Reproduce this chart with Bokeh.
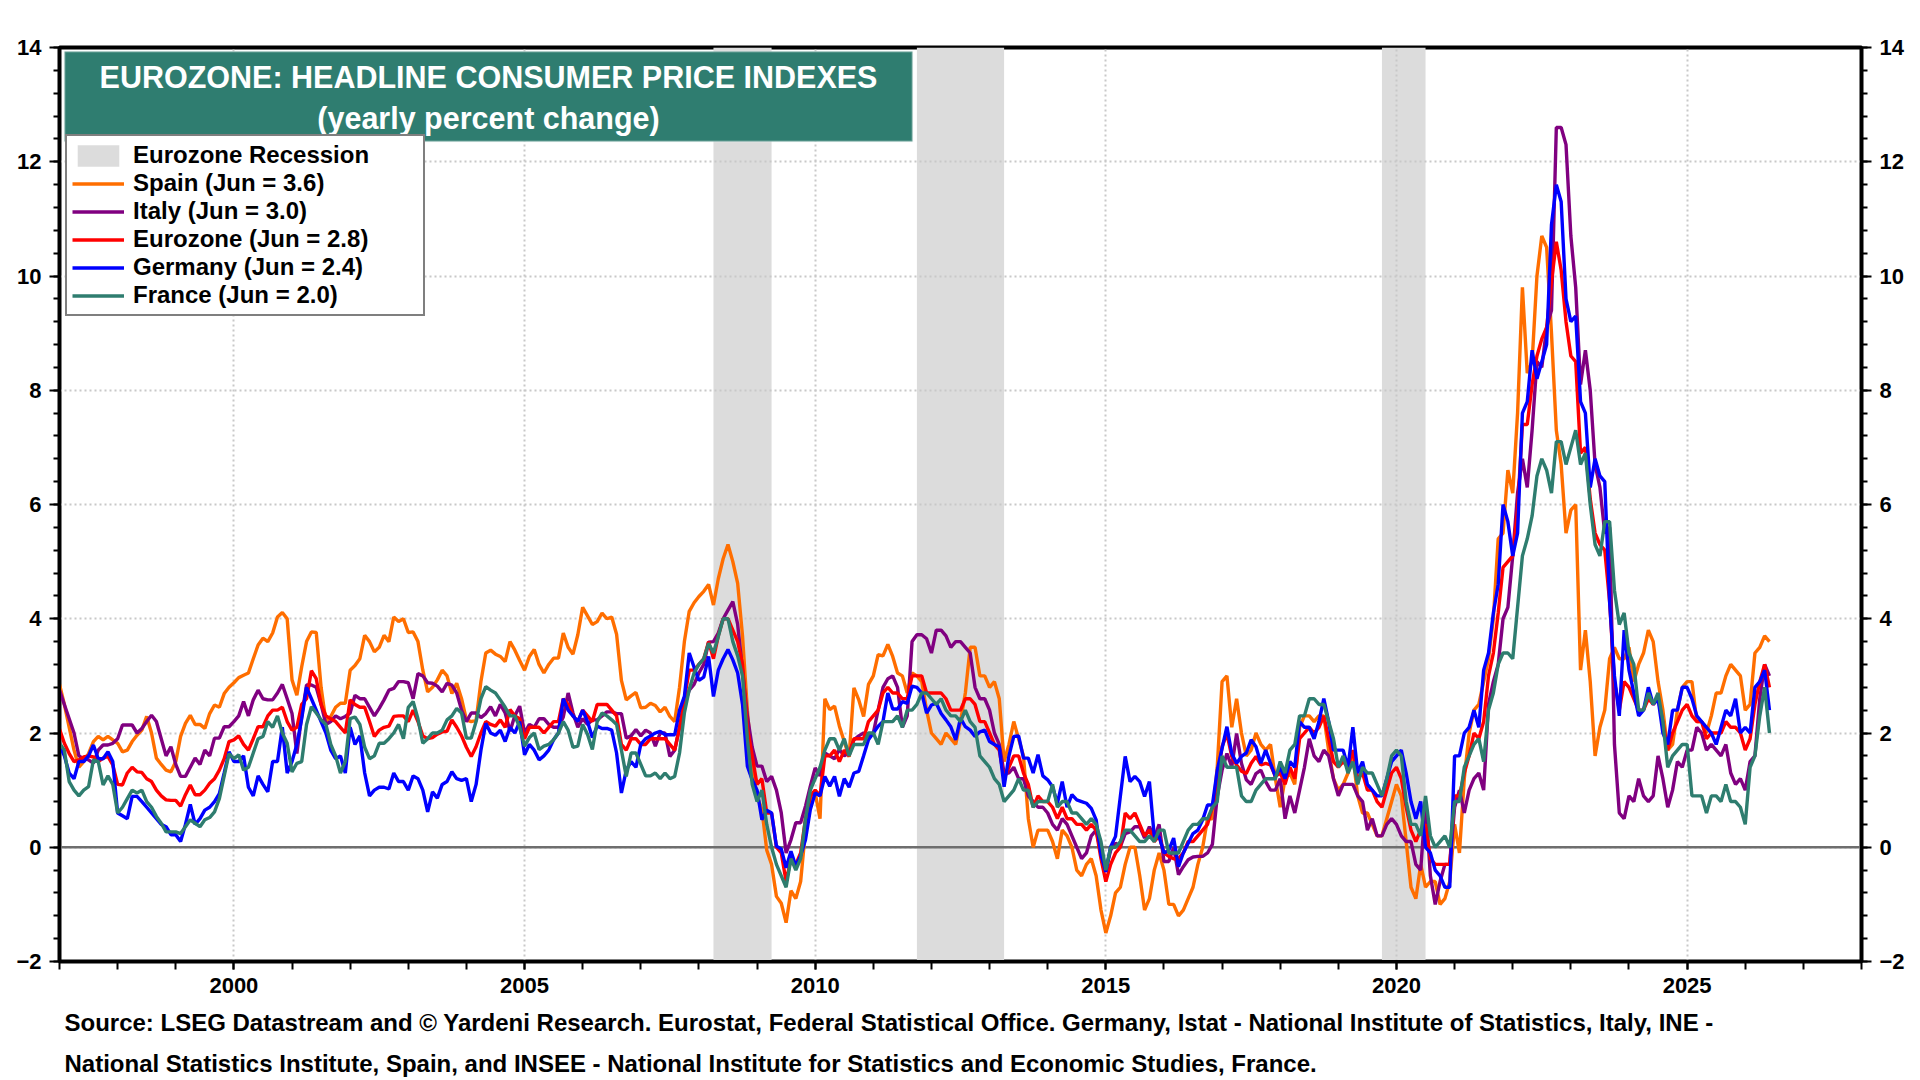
from bokeh.plotting import figure
from bokeh.models import (Range1d, LinearAxis, SingleIntervalTicker, Span, Label,
                          BoxAnnotation, Legend, LegendItem, Title)
from bokeh.embed import file_html
from bokeh.resources import INLINE

FONT = "Liberation Sans"
START_YEAR = 1997
X_MIN, X_MAX = 1997, 2028
Y_MIN, Y_MAX = -2, 14

TITLE_1 = "EUROZONE: HEADLINE CONSUMER PRICE INDEXES"
TITLE_2 = "(yearly percent change)"
SOURCE_1 = ("Source: LSEG Datastream and \u00a9 Yardeni Research. Eurostat, Federal Statistical Office. "
            "Germany, Istat - National Institute of Statistics, Italy, INE -")
SOURCE_2 = ("National Statistics Institute, Spain, and INSEE - National Institute for Statistics "
            "and Economic Studies, France.")

# Eurozone recessions (decimal years)
rec_start = [2008.25, 2011.75, 2019.75]
rec_end = [2009.25, 2013.25, 2020.5]

# Monthly yearly % change, Jan 1997 .. Jun 2026
spain = [
    2.85, 2.5, 2.1, 1.7, 1.4, 1.5, 1.64, 1.85, 1.94, 1.88, 1.94, 1.88,
    1.82, 1.67, 1.7, 1.85, 1.96, 2.05, 2.29, 2.0, 1.56, 1.45, 1.35, 1.32,
    1.5, 1.94, 2.17, 2.31, 2.15, 2.15, 2.08, 2.34, 2.49, 2.45, 2.69, 2.8,
    2.88, 2.97, 3.01, 3.05, 3.3, 3.54, 3.66, 3.6, 3.75, 4.03, 4.11, 4.0,
    2.93, 2.66, 3.16, 3.6, 3.77, 3.76, 2.8, 2.2, 2.29, 2.45, 2.52, 2.52,
    3.1, 3.18, 3.3, 3.71, 3.6, 3.42, 3.5, 3.71, 3.6, 4.03, 3.95, 4.0,
    3.76, 3.77, 3.6, 3.1, 2.72, 2.8, 2.93, 3.1, 3.0, 2.69, 2.87, 2.6,
    2.23, 2.2, 2.22, 2.9, 3.4, 3.45, 3.38, 3.34, 3.25, 3.6, 3.45, 3.27,
    3.1, 3.34, 3.46, 3.2, 3.05, 3.2, 3.31, 3.31, 3.75, 3.5, 3.38, 3.72,
    4.2, 4.05, 3.9, 3.95, 4.1, 4.0, 4.03, 3.73, 2.92, 2.58, 2.65, 2.71,
    2.44, 2.45, 2.52, 2.48, 2.37, 2.45, 2.29, 2.2, 2.8, 3.6, 4.13, 4.28,
    4.39, 4.48, 4.6, 4.24, 4.7, 5.05, 5.3, 5.0, 4.62, 3.7, 2.4, 1.4,
    0.9, 0.66, -0.05, -0.3, -0.86, -0.98, -1.32, -0.76, -0.9, -0.6, 0.3, 0.85,
    0.95, 0.5, 2.6, 2.41, 2.47, 2.12, 1.85, 1.58, 2.79, 2.58, 2.29, 2.85,
    3.0, 3.37, 3.35, 3.55, 3.34, 3.05, 3.0, 2.7, 3.05, 3.0, 2.9, 2.4,
    2.0, 1.9, 1.8, 2.0, 1.9, 1.8, 2.2, 2.7, 3.5, 3.5, 3.0, 3.0,
    2.8, 2.9, 2.6, 1.5, 1.8, 2.2, 1.9, 1.6, 0.5, 0.0, 0.3, 0.3,
    0.3, 0.1, -0.2, 0.3, 0.2, 0.0, -0.4, -0.5, -0.3, -0.2, -0.5, -1.1,
    -1.5, -1.2, -0.8, -0.7, -0.3, 0.0, 0.0, -0.5, -1.1, -0.9, -0.4, -0.1,
    -0.4, -1.0, -1.0, -1.2, -1.1, -0.9, -0.7, -0.3, 0.0, 0.5, 0.5, 1.4,
    2.9, 3.0, 2.1, 2.6, 2.0, 1.6, 1.7, 2.0, 1.8, 1.7, 1.8, 1.2,
    0.7, 1.2, 1.3, 1.1, 2.1, 2.3, 2.3, 2.2, 2.3, 2.3, 1.7, 1.2,
    1.0, 1.1, 1.3, 1.6, 0.9, 0.6, 0.6, 0.4, 0.2, 0.2, 0.5, 0.8,
    1.1, 0.9, 0.1, -0.7, -0.9, -0.3, -0.7, -0.6, -0.6, -1.0, -0.9, -0.6,
    0.4, -0.1, 1.2, 2.0, 2.4, 2.5, 2.9, 3.3, 4.0, 5.4, 5.5, 6.6,
    6.2, 7.6, 9.8, 8.3, 8.5, 10.0, 10.7, 10.5, 9.0, 7.3, 6.7, 5.5,
    5.9, 6.0, 3.1, 3.8, 2.9, 1.6, 2.1, 2.4, 3.3, 3.5, 3.3, 3.3,
    3.5, 2.9, 3.2, 3.4, 3.8, 3.6, 2.9, 2.4, 1.7, 1.8, 2.4, 2.8,
    2.9, 2.9, 2.2, 2.2, 2.0, 2.3, 2.7, 2.7, 3.0, 3.2, 3.1, 3.0,
    2.4, 2.5, 3.4, 3.5, 3.7, 3.6,
]

italy = [
    2.75, 2.5, 2.25, 2.0, 1.6, 1.55, 1.53, 1.47, 1.7, 1.79, 1.79, 1.82,
    1.9, 2.14, 2.14, 2.14, 2.0, 2.08, 2.2, 2.31, 2.2, 1.9, 1.6, 1.76,
    1.45, 1.24, 1.24, 1.4, 1.56, 1.45, 1.7, 1.6, 1.91, 1.91, 2.11, 2.11,
    2.2, 2.3, 2.55, 2.3, 2.58, 2.75, 2.6, 2.58, 2.58, 2.7, 2.85, 2.6,
    2.34, 1.64, 2.3, 2.84, 2.84, 2.8, 2.5, 2.15, 2.2, 2.3, 2.25, 2.29,
    2.35, 2.66, 2.6, 2.6, 2.45, 2.3, 2.43, 2.58, 2.75, 2.78, 2.9, 2.9,
    2.88, 2.6, 3.04, 3.0, 2.88, 2.87, 2.82, 2.72, 2.87, 2.84, 2.7, 2.4,
    2.2, 2.35, 2.35, 2.27, 2.34, 2.46, 2.3, 2.5, 2.35, 2.03, 2.3, 2.47,
    2.0, 2.15, 2.1, 2.25, 2.25, 2.15, 2.1, 2.1, 2.28, 2.7, 2.35, 2.1,
    2.25, 2.15, 2.23, 2.23, 2.3, 2.37, 2.37, 2.34, 2.34, 1.91, 1.95, 2.06,
    1.95, 2.05, 2.0, 1.77, 2.0, 2.0, 1.59, 1.7, 2.1, 2.5, 2.75, 2.85,
    3.05, 3.2, 3.59, 3.6, 3.75, 4.0, 4.15, 4.3, 3.9, 3.1, 2.3, 1.75,
    1.42, 1.42, 1.15, 1.24, 1.0, 0.6, -0.1, 0.13, 0.43, 0.43, 0.72, 1.07,
    1.39, 1.25, 1.65, 1.6, 1.55, 1.71, 1.6, 1.65, 1.88, 1.95, 2.0, 1.95,
    2.0, 2.4, 2.8, 2.95, 3.0, 2.8, 2.1, 2.3, 3.6, 3.72, 3.72, 3.65,
    3.4, 3.8, 3.8, 3.7, 3.5, 3.6, 3.6, 3.5, 3.4, 2.8, 2.6, 2.6,
    2.4, 2.0, 1.8, 1.3, 1.3, 1.4, 1.2, 1.2, 0.9, 0.8, 0.7, 0.7,
    0.6, 0.4, 0.3, 0.5, 0.4, 0.2, 0.0, -0.2, -0.1, 0.2, 0.3, -0.1,
    -0.4, -0.05, 0.07, 0.01, 0.24, 0.27, 0.36, 0.36, 0.16, 0.36, 0.16, 0.4,
    -0.25, -0.25, 0.0, -0.48, -0.34, -0.22, -0.17, -0.16, -0.16, -0.1, 0.05, 0.89,
    1.35, 1.64, 1.41, 1.99, 1.47, 1.18, 1.1, 1.29, 1.35, 1.15, 1.0, 1.0,
    1.2, 0.5, 0.9, 0.6, 1.0, 1.4, 1.9, 1.6, 1.5, 1.7, 1.6, 1.2,
    0.9, 1.1, 1.1, 1.1, 0.9, 0.8, 0.3, 0.5, 0.2, 0.2, 0.4, 0.5,
    0.4, 0.2, 0.1, 0.1, -0.3, -0.4, 0.8, -0.5, -1.0, -0.6, -0.3, -0.3,
    0.7, 1.0, 0.6, 1.0, 1.2, 1.3, 1.0, 2.5, 2.9, 3.2, 4.0, 4.2,
    5.1, 6.2, 6.8, 6.3, 7.3, 8.5, 8.4, 9.1, 9.4, 12.6, 12.6, 12.3,
    10.7, 9.8, 8.1, 8.7, 8.0, 6.7, 6.3, 5.5, 5.6, 1.8, 0.6, 0.5,
    0.9, 0.8, 1.2, 0.9, 0.8, 0.9, 1.6, 1.2, 0.7, 1.0, 1.5, 1.4,
    1.7, 1.7, 2.1, 2.0, 1.7, 1.8, 1.7, 1.6, 1.8, 1.3, 1.1, 1.2,
    1.0, 1.5, 1.6, 2.6, 3.2, 3.0,
]

eurozone = [
    2.07, 1.82, 1.64, 1.5, 1.53, 1.58, 1.6, 1.58, 1.5, 1.56, 1.59, 1.44,
    1.1, 1.09, 1.3, 1.4, 1.32, 1.31, 1.2, 1.15, 1.0, 0.9, 0.83, 0.82,
    0.82, 0.72, 0.92, 1.09, 0.92, 0.92, 1.0, 1.12, 1.2, 1.35, 1.55, 1.85,
    1.88, 1.95, 1.8, 1.7, 1.9, 2.11, 2.11, 2.3, 2.4, 2.4, 2.45, 2.2,
    2.05, 2.1, 2.5, 2.6, 3.09, 2.95, 2.5, 2.3, 2.25, 2.2, 2.1, 2.0,
    2.58, 2.5, 2.45, 2.45, 2.2, 1.94, 2.05, 2.1, 2.12, 2.29, 2.3, 2.3,
    2.2, 2.4, 2.2, 1.95, 1.9, 1.92, 1.98, 2.02, 2.03, 2.23, 2.1, 1.95,
    1.75, 1.59, 1.76, 2.0, 2.2, 2.15, 2.12, 2.23, 2.1, 2.41, 2.3, 2.25,
    1.9, 2.1, 2.1, 2.1, 2.0, 2.1, 2.2, 2.2, 2.6, 2.5, 2.3, 2.2,
    2.4, 2.3, 2.2, 2.5, 2.5, 2.5, 2.4, 2.3, 1.8, 1.7, 1.9, 1.9,
    1.8, 1.8, 1.9, 1.9, 1.9, 1.9, 1.8, 1.7, 2.1, 2.6, 3.1, 3.1,
    3.2, 3.3, 3.6, 3.3, 3.7, 4.0, 4.0, 3.8, 3.6, 3.2, 2.1, 1.6,
    1.1, 1.2, 0.6, 0.6, 0.0, -0.1, -0.6, -0.2, -0.3, -0.1, 0.5, 0.9,
    1.0, 0.9, 1.6, 1.6, 1.7, 1.5, 1.7, 1.6, 1.9, 1.9, 1.9, 2.2,
    2.3, 2.4, 2.7, 2.8, 2.7, 2.7, 2.6, 2.6, 3.0, 3.0, 3.0, 2.7,
    2.7, 2.7, 2.7, 2.6, 2.4, 2.4, 2.4, 2.6, 2.6, 2.5, 2.2, 2.2,
    2.0, 1.8, 1.7, 1.2, 1.4, 1.6, 1.6, 1.3, 1.1, 0.7, 0.9, 0.8,
    0.8, 0.7, 0.5, 0.7, 0.5, 0.5, 0.4, 0.4, 0.3, 0.4, 0.3, -0.2,
    -0.6, -0.3, -0.1, 0.0, 0.6, 0.5, 0.6, 0.4, 0.2, 0.3, 0.1, 0.2,
    -0.1, -0.16, -0.2, -0.2, -0.1, 0.1, 0.1, 0.2, 0.3, 0.4, 0.7, 1.2,
    1.76, 1.99, 1.59, 1.44, 1.33, 1.29, 1.47, 1.59, 1.44, 1.47, 1.44, 1.24,
    1.3, 1.1, 1.4, 1.2, 1.9, 2.0, 2.1, 2.0, 2.1, 2.3, 1.9, 1.5,
    1.4, 1.5, 1.4, 1.7, 1.2, 1.3, 1.0, 1.0, 0.8, 0.7, 1.0, 1.3,
    1.4, 1.2, 0.7, 0.3, 0.1, 0.3, 0.4, -0.2, -0.3, -0.3, -0.3, -0.3,
    0.9, 0.9, 1.3, 1.6, 2.0, 1.9, 2.2, 3.0, 3.4, 4.1, 4.9, 5.0,
    5.1, 5.9, 7.4, 7.4, 8.1, 8.6, 8.9, 9.1, 9.9, 10.6, 10.1, 9.2,
    8.6, 8.5, 6.9, 7.0, 6.1, 5.5, 5.3, 5.2, 4.3, 2.9, 2.4, 2.9,
    2.8, 2.6, 2.4, 2.4, 2.6, 2.5, 2.6, 2.2, 1.7, 2.0, 2.2, 2.4,
    2.5, 2.3, 2.2, 2.2, 1.9, 2.0, 2.0, 2.0, 2.2, 2.1, 2.1, 2.0,
    1.7, 1.9, 2.5, 2.9, 3.2, 2.8,
]

germany = [
    1.79, 1.6, 1.3, 1.2, 1.5, 1.5, 1.6, 1.79, 1.55, 1.55, 1.67, 1.5,
    0.6, 0.55, 0.5, 0.89, 0.89, 0.8, 0.7, 0.6, 0.5, 0.4, 0.36, 0.22,
    0.22, 0.1, 0.4, 0.75, 0.4, 0.5, 0.65, 0.7, 0.8, 0.94, 1.3, 1.67,
    1.5, 1.5, 1.6, 1.05, 0.9, 1.25, 1.1, 0.97, 1.5, 1.5, 2.1, 1.3,
    1.5, 1.8, 2.25, 2.8, 2.6, 2.4, 2.2, 2.0, 1.7, 1.55, 1.6, 1.3,
    2.1, 1.8, 1.95, 1.3, 0.9, 1.0, 1.05, 1.05, 1.02, 1.3, 1.15, 1.15,
    1.0, 1.25, 1.2, 1.0, 0.62, 0.97, 0.86, 1.1, 1.15, 1.32, 1.2, 1.17,
    1.2, 0.8, 1.1, 1.7, 2.17, 2.0, 1.96, 2.05, 1.85, 2.1, 2.0, 2.2,
    1.62, 1.8, 1.7, 1.53, 1.6, 1.7, 1.88, 2.0, 2.6, 2.4, 2.3, 2.2,
    2.4, 2.2, 1.92, 2.12, 2.08, 2.08, 2.05, 1.65, 0.95, 1.35, 1.5, 1.4,
    1.8, 1.9, 1.95, 2.0, 2.03, 1.97, 1.97, 1.97, 2.4, 2.64, 3.4, 3.15,
    2.92, 2.98, 3.34, 2.64, 3.1, 3.3, 3.46, 3.28, 3.05, 2.5, 1.42, 1.18,
    1.0, 0.48, 0.65, 0.6, 0.02, -0.03, -0.36, -0.07, -0.33, -0.15, 0.13, 0.66,
    0.95, 0.9, 1.24, 1.07, 1.24, 0.89, 1.2, 1.05, 1.3, 1.33, 1.6, 1.88,
    2.0, 2.12, 2.2, 2.7, 2.42, 2.42, 2.55, 2.52, 2.82, 2.8, 2.7, 2.35,
    2.49, 2.52, 2.34, 2.23, 2.11, 1.88, 2.26, 2.11, 2.05, 1.94, 2.02, 2.05,
    1.85, 1.8, 1.76, 1.06, 1.6, 1.94, 1.95, 1.56, 1.56, 1.3, 1.62, 1.25,
    1.18, 1.06, 0.77, 1.15, 0.7, 0.92, 0.83, 0.8, 0.77, 0.68, 0.48, -0.13,
    -0.43, 0.01, 0.19, 0.89, 1.59, 1.15, 1.24, 1.15, 0.89, 1.15, 0.19, 0.19,
    -0.1, -0.05, 0.16, -0.34, -0.1, 0.07, 0.24, 0.3, 0.48, 0.74, 0.74, 1.35,
    1.73, 2.11, 1.64, 1.47, 1.59, 1.65, 1.88, 1.76, 1.47, 1.7, 1.47, 1.24,
    1.4, 1.2, 1.5, 1.4, 2.2, 2.1, 2.1, 1.9, 2.2, 2.6, 2.2, 1.7,
    1.7, 1.7, 1.4, 2.1, 1.3, 1.5, 1.1, 1.0, 0.9, 0.9, 1.2, 1.5,
    1.6, 1.7, 1.3, 0.8, 0.5, 0.8, 0.0, -0.1, -0.4, -0.5, -0.7, -0.7,
    1.6, 1.6, 2.0, 2.1, 2.4, 2.1, 3.1, 3.4, 4.1, 4.6, 6.0, 5.7,
    5.1, 5.5, 7.6, 7.8, 8.7, 8.2, 8.5, 8.8, 10.9, 11.6, 11.3, 9.6,
    9.2, 9.3, 7.8, 7.6, 6.3, 6.8, 6.5, 6.4, 4.3, 3.0, 2.3, 3.8,
    3.1, 2.7, 2.3, 2.4, 2.8, 2.5, 2.6, 2.0, 1.8, 2.4, 2.4, 2.8,
    2.8, 2.6, 2.3, 2.2, 2.1, 2.0, 1.8, 2.1, 2.4, 2.3, 2.6, 2.0,
    2.1, 2.0, 2.8, 2.9, 3.1, 2.4,
]

france = [
    1.82, 1.7, 1.15, 1.0, 0.9, 1.0, 1.06, 1.53, 1.5, 1.09, 1.25, 1.1,
    0.6, 0.7, 0.85, 1.0, 0.95, 1.0, 0.8, 0.7, 0.54, 0.42, 0.27, 0.27,
    0.27, 0.24, 0.36, 0.48, 0.42, 0.36, 0.48, 0.52, 0.62, 0.85, 1.25, 1.64,
    1.55, 1.62, 1.35, 1.4, 1.65, 1.9, 1.94, 2.2, 2.1, 2.3, 2.0, 1.82,
    1.32, 1.47, 1.5, 2.15, 2.46, 2.35, 2.23, 2.15, 1.8, 1.6, 1.3, 1.5,
    2.25, 2.28, 2.15, 1.75, 1.55, 1.6, 1.82, 1.82, 1.9, 2.0, 2.15, 1.9,
    2.45, 2.55, 2.25, 1.82, 1.9, 2.0, 2.0, 2.05, 2.23, 2.3, 2.43, 2.35,
    1.91, 1.91, 2.2, 2.6, 2.81, 2.75, 2.7, 2.58, 2.45, 2.3, 2.3, 2.1,
    1.77, 1.92, 2.0, 1.71, 1.77, 1.8, 1.88, 2.0, 2.2, 2.05, 1.75, 1.77,
    2.15, 1.98, 1.71, 2.2, 2.35, 2.3, 2.23, 2.15, 1.7, 1.24, 1.65, 1.65,
    1.45, 1.25, 1.25, 1.3, 1.2, 1.3, 1.2, 1.24, 1.65, 2.35, 2.76, 3.05,
    3.2, 3.3, 3.57, 3.4, 3.69, 4.0, 4.0, 3.6, 3.35, 3.0, 1.9, 1.1,
    0.8, 1.0, 0.4, 0.0, -0.3, -0.5, -0.7, -0.2, -0.4, -0.2, 0.5, 1.0,
    1.2, 1.4, 1.7, 1.9, 1.9, 1.7, 1.9, 1.6, 1.8, 1.8, 1.8, 2.0,
    2.0, 1.8, 2.2, 2.2, 2.2, 2.3, 2.1, 2.4, 2.4, 2.5, 2.7, 2.7,
    2.6, 2.5, 2.6, 2.4, 2.3, 2.3, 2.2, 2.4, 2.2, 2.1, 1.6, 1.5,
    1.4, 1.2, 1.1, 0.8, 0.9, 1.0, 1.2, 1.0, 1.0, 0.7, 0.8, 0.8,
    0.8, 1.1, 0.7, 0.8, 0.8, 0.6, 0.6, 0.5, 0.4, 0.5, 0.4, 0.1,
    -0.4, 0.0, 0.0, 0.1, 0.3, 0.3, 0.2, 0.1, 0.1, 0.2, 0.1, 0.3,
    0.3, -0.1, -0.1, -0.1, 0.1, 0.3, 0.4, 0.4, 0.5, 0.5, 0.7, 0.8,
    1.6, 1.4, 1.4, 1.4, 0.9, 0.8, 0.8, 1.0, 1.1, 1.2, 1.2, 1.2,
    1.5, 1.3, 1.7, 1.8, 2.3, 2.3, 2.6, 2.6, 2.5, 2.5, 2.2, 1.9,
    1.4, 1.6, 1.3, 1.5, 1.1, 1.4, 1.3, 1.3, 1.1, 0.9, 1.2, 1.6,
    1.7, 1.6, 0.8, 0.4, 0.4, 0.2, 0.9, 0.2, 0.0, 0.1, 0.2, 0.0,
    0.8, 0.8, 1.4, 1.6, 1.8, 1.9, 1.5, 2.4, 2.7, 3.2, 3.4, 3.4,
    3.3, 4.2, 5.1, 5.4, 5.8, 6.5, 6.8, 6.6, 6.2, 7.1, 7.1, 6.7,
    7.0, 7.3, 6.7, 6.9, 6.0, 5.3, 5.1, 5.7, 5.7, 4.5, 3.9, 4.1,
    3.4, 3.2, 2.4, 2.4, 2.7, 2.5, 2.7, 2.2, 1.4, 1.6, 1.7, 1.8,
    1.8, 0.9, 0.9, 0.9, 0.6, 0.9, 0.9, 0.8, 1.1, 0.8, 0.8, 0.7,
    0.4, 1.4, 1.6, 2.3, 2.8, 2.0,
]

series = [
    ("Spain", spain, "#FF6E00"),
    ("Italy", italy, "#800080"),
    ("Eurozone", eurozone, "#FF0000"),
    ("Germany", germany, "#0000FF"),
    ("France", france, "#2E7D6F"),
]


def month_axis(values):
    return [START_YEAR + i / 12 for i in range(len(values))]


p = figure(frame_width=1802, frame_height=914,
           x_range=Range1d(X_MIN, X_MAX), y_range=Range1d(Y_MIN, Y_MAX),
           output_backend="svg", toolbar_location=None, title=None,
           min_border_left=59, min_border_right=59,
           min_border_top=47, min_border_bottom=119)
p.background_fill_color = "white"
p.border_fill_color = "white"
p.outline_line_color = "black"
p.outline_line_width = 4
p.outline_line_alpha = 1.0

x_ticker = SingleIntervalTicker(interval=5, num_minor_ticks=5)
y_ticker = SingleIntervalTicker(interval=2, num_minor_ticks=5)
p.xaxis.ticker = x_ticker
p.yaxis.ticker = y_ticker
p.xgrid.ticker = x_ticker
p.ygrid.ticker = y_ticker

right_axis = LinearAxis(ticker=SingleIntervalTicker(interval=2, num_minor_ticks=5))
p.add_layout(right_axis, "right")


def style_axis(ax, major_out, minor_out):
    ax.axis_line_color = "black"
    ax.axis_line_width = 3
    ax.major_tick_line_color = "black"
    ax.major_tick_line_width = 2
    ax.major_tick_in = 0
    ax.major_tick_out = major_out
    ax.minor_tick_line_color = "black"
    ax.minor_tick_line_width = 2
    ax.minor_tick_in = 0
    ax.minor_tick_out = minor_out
    ax.major_label_text_font = FONT
    ax.major_label_text_font_style = "bold"
    ax.major_label_text_font_size = "22px"
    ax.major_label_text_color = "black"
    ax.major_label_standoff = 8


for ax in p.xaxis:
    style_axis(ax, 8, 8)
for ax in p.yaxis:
    style_axis(ax, 10, 6)
style_axis(right_axis, 10, 6)

for g in (p.xgrid, p.ygrid):
    g.grid_line_color = "#C8C8C8"
    g.grid_line_width = 2
    g.grid_line_dash = "2 3"

# recession shading
rec = p.quad(left=rec_start, right=rec_end, bottom=Y_MIN, top=Y_MAX,
             fill_color="#DCDCDC", line_color=None, level="image")

zero = Span(location=0, dimension="width", line_color="#6E6E6E", line_width=2.5,
            level="underlay")
p.add_layout(zero)

line_renderers = []
for name, vals, color in series:
    r = p.line(month_axis(vals), vals, line_color=color, line_width=3.4)
    line_renderers.append((name, vals, r))

items = [LegendItem(label="Eurozone Recession", renderers=[rec])]
for name, vals, r in line_renderers:
    items.append(LegendItem(label=f"{name} (Jun = {vals[-1]:.1f})", renderers=[r]))

legend = Legend(items=items, location=(6, 645), orientation="vertical",
                label_text_font=FONT, label_text_font_style="bold",
                label_text_font_size="24px", label_text_color="black",
                label_height=27, glyph_height=27, glyph_width=52,
                label_width=285,
                label_standoff=9, spacing=0, padding=5, margin=0,
                border_line_color="black", border_line_width=2.5,
                background_fill_color="white", background_fill_alpha=1.0)
p.add_layout(legend)

# title box
title_box = BoxAnnotation(left=5, right=853, bottom=820, top=910,
                          left_units="screen", right_units="screen",
                          bottom_units="screen", top_units="screen",
                          fill_color="#2F7D70", fill_alpha=1.0,
                          line_color="#E8F0EE", line_width=2)
p.add_layout(title_box)
for txt, yy in ((TITLE_1, 885), (TITLE_2, 844)):
    p.add_layout(Label(x=429, y=yy, x_units="screen", y_units="screen", text=txt,
                       text_align="center", text_baseline="middle",
                       text_color="white", text_font=FONT,
                       text_font_style="bold", text_font_size="30.5px"))

# source notes below the axis
for txt, so in ((SOURCE_1, 23), (SOURCE_2, 0)):
    p.add_layout(Title(text=txt, align="left", offset=5, standoff=so,
                       text_color="black", text_font=FONT,
                       text_font_style="bold", text_font_size="24px"), "below")

open("out.html", "w").write(file_html(p, INLINE))
